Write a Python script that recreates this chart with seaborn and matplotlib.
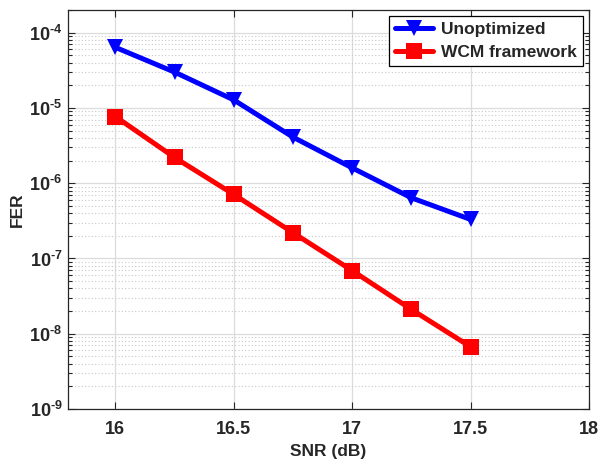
import pandas as pd
import seaborn as sns
import matplotlib.pyplot as plt
import matplotlib.ticker as ticker
import numpy as np

sns.set_style("ticks")
plt.rcParams["font.family"] = ["Liberation Sans", "DejaVu Sans"]
plt.rcParams["font.weight"] = "bold"
plt.rcParams["mathtext.fontset"] = "custom"
plt.rcParams["mathtext.rm"] = "Liberation Sans:bold"
plt.rcParams["mathtext.bf"] = "Liberation Sans:bold"
plt.rcParams["mathtext.it"] = "Liberation Sans:bold"

SNR = [16.0, 16.25, 16.5, 16.75, 17.0, 17.25, 17.5]
FER_UNOPT = [6.4e-5, 3.0e-5, 1.28e-5, 4.1e-6, 1.6e-6, 6.4e-7, 3.3e-7]
FER_WCM = [7.7e-6, 2.2e-6, 7.1e-7, 2.2e-7, 6.9e-8, 2.1e-8, 6.7e-9]
LABELS = ["Unoptimized", "WCM framework"]

df = pd.DataFrame({
    "snr": SNR * 2,
    "fer": FER_UNOPT + FER_WCM,
    "scheme": [LABELS[0]] * len(SNR) + [LABELS[1]] * len(SNR),
})

fig = plt.figure(figsize=(5.98, 4.59), dpi=100)
ax = fig.add_axes([0.1137, 0.109, 0.8713, 0.869])

sns.lineplot(
    data=df, x="snr", y="fer", hue="scheme", style="scheme",
    palette=["#0000ff", "#ff0000"], markers=["v", "s"], dashes=False,
    linewidth=3.6, markersize=11, markeredgewidth=0, ax=ax,
)

ax.set_yscale("log")
ax.set_xlim(15.8, 18)
ax.set_ylim(1e-9, 2e-4)
ax.set_xticks([16, 16.5, 17, 17.5, 18])
ax.set_xticklabels(["16", "16.5", "17", "17.5", "18"])
ax.yaxis.set_major_locator(ticker.LogLocator(base=10, numticks=10))
ax.yaxis.set_major_formatter(
    ticker.FuncFormatter(lambda v, p: r"$10^{\text{-%d}}$" % abs(round(np.log10(v))))
)
ax.yaxis.set_minor_locator(ticker.LogLocator(base=10, subs=np.arange(2, 10), numticks=10))
ax.yaxis.set_minor_formatter(ticker.NullFormatter())

ax.grid(True, which="major", color="#dcdcdc", linewidth=0.9, linestyle="-")
ax.grid(True, which="minor", axis="y", color="#c8c8c8", linewidth=0.8, linestyle=(0, (1, 2)))
ax.set_axisbelow(True)

ax.tick_params(which="both", direction="in", top=True, right=True, labelsize=13, width=0.8, colors="#262626")
ax.tick_params(which="major", length=5)
ax.tick_params(axis="x", which="major", pad=9)
ax.tick_params(axis="y", which="major", pad=4)
ax.tick_params(which="minor", length=3)
for s in ax.spines.values():
    s.set_color("#262626")
    s.set_linewidth(0.9)

ax.set_xlabel("SNR (dB)", fontsize=12.5, fontweight="bold", labelpad=4)
ax.set_ylabel("FER", fontsize=12.5, fontweight="bold", labelpad=3)

leg = ax.legend(loc="upper right", fontsize=12.5, frameon=True, fancybox=False,
                edgecolor="black", framealpha=1, handlelength=2.2,
                borderaxespad=0.35, borderpad=0.35, labelspacing=0.45, handletextpad=0.45)
leg.get_frame().set_linewidth(0.9)
for t in leg.get_texts():
    t.set_fontweight("bold")

plt.savefig("out.png", dpi=100)
